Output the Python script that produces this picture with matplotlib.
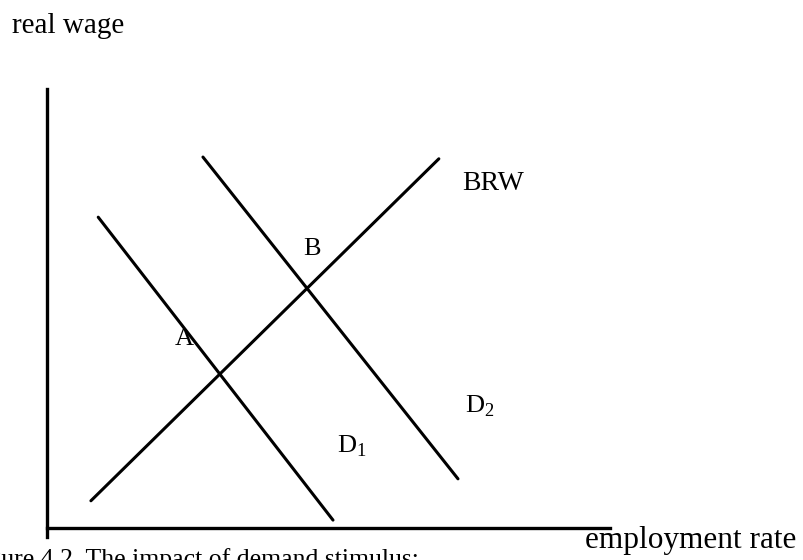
import matplotlib.pyplot as plt

plt.rcParams['font.family'] = ['Liberation Serif', 'DejaVu Serif']
plt.rcParams['mathtext.fontset'] = 'custom'
plt.rcParams['mathtext.rm'] = 'Liberation Serif'

# curve end points (employment rate, real wage), arbitrary units
brw_x = [7.8, 69.6]
brw_y = [6.2, 84.1]
d1_x = [9.1, 50.8]
d1_y = [70.8, 1.8]
d2_x = [27.7, 73.0]
d2_y = [84.5, 11.2]

fig = plt.figure(figsize=(8.04, 5.6), dpi=100)
# axes box in pixels: left 47, bottom 537, width 563, top 89
ax = fig.add_axes([47 / 804, (560 - 537) / 560, 563 / 804, (537 - 89) / 560])
ax.set_xlim(0, 100)
ax.set_ylim(-2.05, 100)

lw = 2.2
ax.plot(brw_x, brw_y, color='black', lw=lw, solid_capstyle='round')
ax.plot(d1_x, d1_y, color='black', lw=lw, solid_capstyle='round')
ax.plot(d2_x, d2_y, color='black', lw=lw, solid_capstyle='round')

# axes as in the diagram
for side in ['top', 'right']:
    ax.spines[side].set_visible(False)
ax.spines['left'].set_linewidth(2.4)
ax.spines['bottom'].set_linewidth(2.4)
ax.spines['bottom'].set_position(('data', 0))
ax.set_xticks([])
ax.set_yticks([])

fs = 20
ax.text(73.7, 77.0, 'BRW', fontsize=fs, ha='left', va='baseline')
ax.text(45.5, 62.2, 'B', fontsize=19, ha='left', va='baseline')
ax.text(22.6, 41.7, 'A', fontsize=19, ha='left', va='baseline')
ax.text(51.5, 17.1, r'D$_{\mathrm{1}}$', fontsize=19, ha='left', va='baseline')
ax.text(74.2, 26.2, r'D$_{\mathrm{2}}$', fontsize=19, ha='left', va='baseline')

fig.text(12 / 804, 1 - 33 / 560, 'real wage', fontsize=21, ha='left', va='baseline')
fig.text(585 / 804, 1 - 548 / 560, 'employment rate', fontsize=22.5, ha='left', va='baseline')
# caption is cut by the page edges in the source
fig.text(-33 / 804, -6 / 560, 'Figure 4.2. The impact of demand stimulus:',
         fontsize=18.5, ha='left', va='baseline')

fig.savefig('out.png', dpi=100)
